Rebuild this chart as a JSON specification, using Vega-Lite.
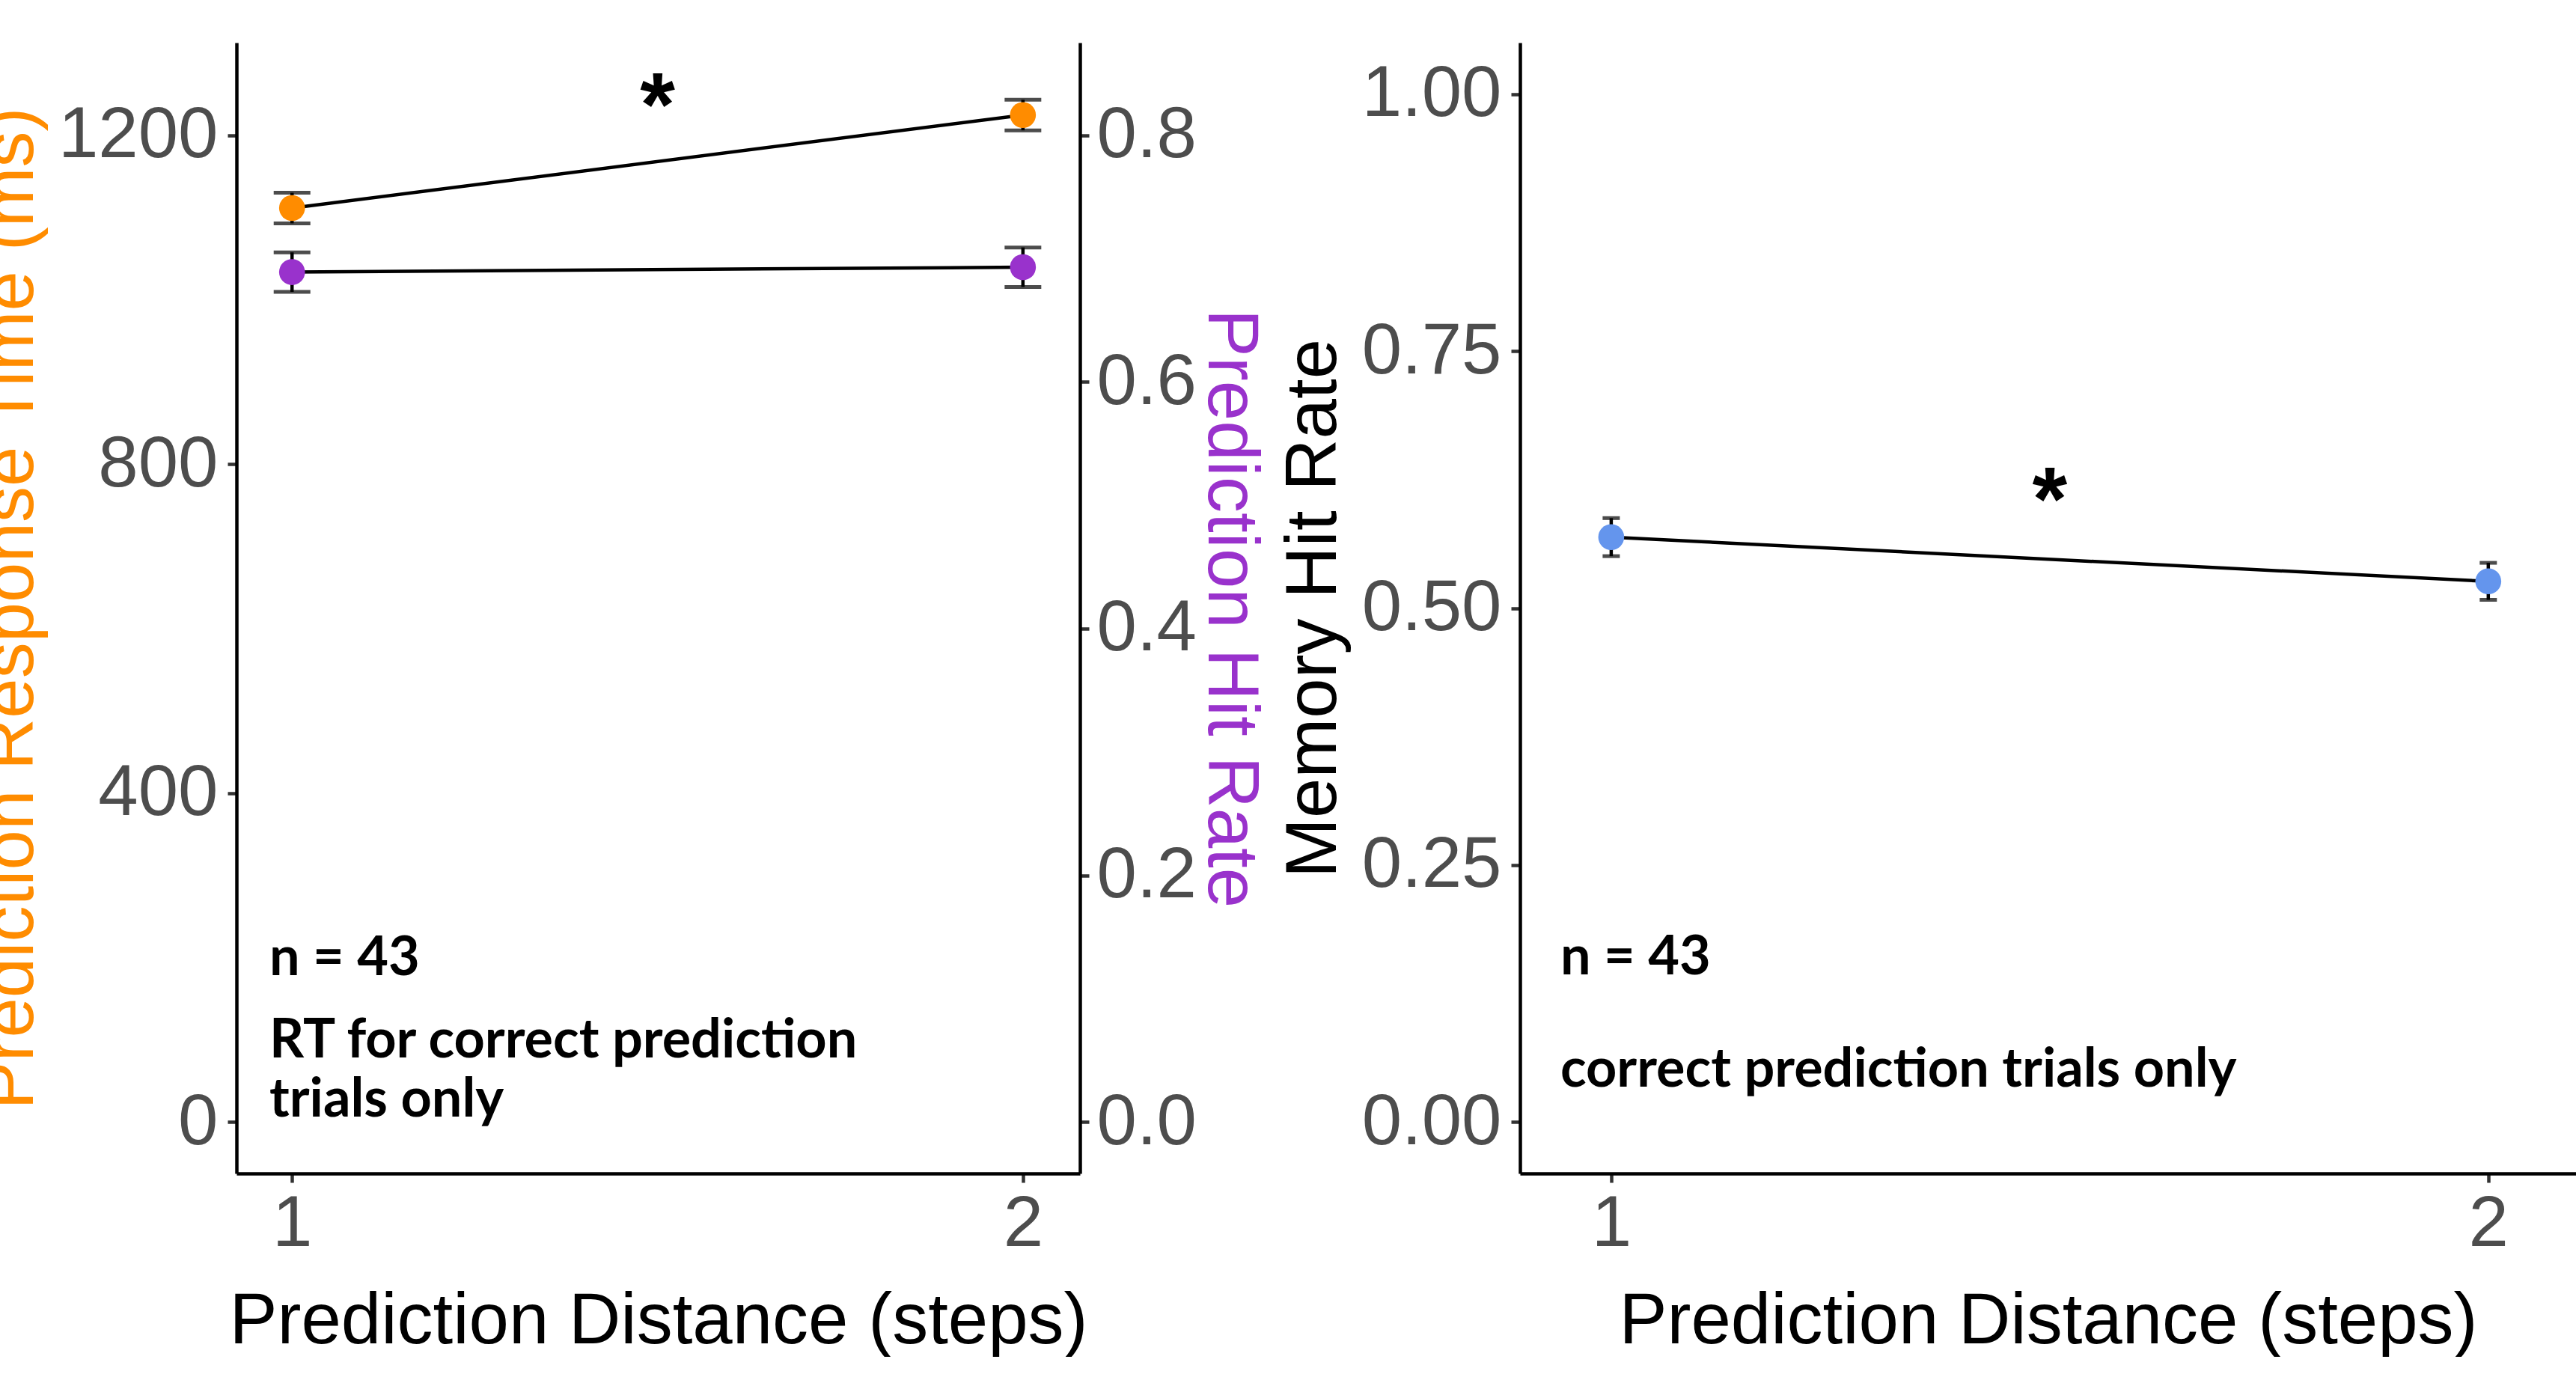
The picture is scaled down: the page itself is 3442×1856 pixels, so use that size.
{
  "$schema": "https://vega.github.io/schema/vega-lite/v6.json",
  "background": "white",
  "padding": {"left": -34, "top": 57, "right": 0, "bottom": 0},
  "spacing": 16,
  "config": {
    "view": {"stroke": null},
    "axis": {
      "labelFont": "Liberation Sans",
      "titleFont": "Liberation Sans",
      "labelFontSize": 96,
      "titleFontSize": 96,
      "labelColor": "#4D4D4D",
      "titleColor": "#000000",
      "titleFontWeight": "normal",
      "tickColor": "#333333",
      "tickWidth": 4.5,
      "tickSize": 12,
      "domainColor": "#000000",
      "domainWidth": 4.5,
      "grid": false,
      "labelFlush": false,
      "labelOverlap": false,
      "labelBound": false,
      "labelLimit": 0,
      "titleLimit": 0
    }
  },
  "datasets": {
    "rt": [
      {"dist": 1, "rt": 1111.4, "rt_lo": 1092.8, "rt_hi": 1130.0},
      {"dist": 2, "rt": 1224.5, "rt_lo": 1205.9, "rt_hi": 1243.1}
    ],
    "hit": [
      {"dist": 1, "hit": 0.689, "hit_lo": 0.673, "hit_hi": 0.705},
      {"dist": 2, "hit": 0.693, "hit_lo": 0.677, "hit_hi": 0.709}
    ],
    "mem": [
      {"dist": 1, "mem": 0.569, "mem_lo": 0.5505, "mem_hi": 0.5875},
      {"dist": 2, "mem": 0.526, "mem_lo": 0.508, "mem_hi": 0.544}
    ],
    "noteLeft": [
      {"dist": 0.969, "rt": 179, "label": "n = 43"},
      {"dist": 0.969, "rt": 79, "label": "RT for correct prediction"},
      {"dist": 0.969, "rt": 7, "label": "trials only"}
    ],
    "starLeft": [{"dist": 1.5, "rt": 1200, "label": "*"}],
    "noteRight": [
      {"dist": 0.942, "mem": 0.1433, "label": "n = 43"},
      {"dist": 0.942, "mem": 0.0346, "label": "correct prediction trials only"}
    ],
    "starRight": [{"dist": 1.5, "mem": 0.576, "label": "*"}]
  },
  "hconcat": [
    {
      "width": 1127,
      "height": 1511,
      "encoding": {
        "x": {
          "field": "dist",
          "type": "quantitative",
          "scale": {"domain": [0.924, 2.078], "nice": false, "zero": false},
          "axis": {"title": "Prediction Distance (steps)", "values": [1, 2], "format": "d", "labelPadding": 8, "titlePadding": 35}
        }
      },
      "layer": [
        {
          "layer": [
            {
              "data": {"name": "rt"},
              "mark": {"type": "line", "color": "black", "strokeWidth": 4.5},
              "encoding": {
                "y": {"field": "rt", "type": "quantitative", "scale": {"domain": [-62.5, 1312.5], "nice": false, "zero": false},
                  "axis": {"orient": "left", "title": "Prediction Response Time (ms)", "titleColor": "#FF8C00", "values": [0, 400, 800, 1200], "format": "d", "labelPadding": 13, "titlePadding": 0, "minExtent": 253, "maxExtent": 253}}
              }
            },
            {
              "data": {"name": "rt"},
              "mark": {"type": "rule", "color": "black", "strokeWidth": 4.5},
              "encoding": {
                "y": {"field": "rt_lo", "type": "quantitative", "scale": {"domain": [-62.5, 1312.5], "nice": false, "zero": false},
                  "axis": {"orient": "left", "title": "Prediction Response Time (ms)", "titleColor": "#FF8C00", "values": [0, 400, 800, 1200], "format": "d", "labelPadding": 13, "titlePadding": 0, "minExtent": 253, "maxExtent": 253}},
                "y2": {"field": "rt_hi"}
              }
            },
            {
              "data": {"name": "rt"},
              "mark": {"type": "tick", "orient": "horizontal", "color": "black", "thickness": 5, "size": 49},
              "encoding": {"y": {"field": "rt_lo", "type": "quantitative", "scale": {"domain": [-62.5, 1312.5], "nice": false, "zero": false},
                  "axis": {"orient": "left", "title": "Prediction Response Time (ms)", "titleColor": "#FF8C00", "values": [0, 400, 800, 1200], "format": "d", "labelPadding": 13, "titlePadding": 0, "minExtent": 253, "maxExtent": 253}}}
            },
            {
              "data": {"name": "rt"},
              "mark": {"type": "tick", "orient": "horizontal", "color": "black", "thickness": 5, "size": 49},
              "encoding": {"y": {"field": "rt_hi", "type": "quantitative", "scale": {"domain": [-62.5, 1312.5], "nice": false, "zero": false},
                  "axis": {"orient": "left", "title": "Prediction Response Time (ms)", "titleColor": "#FF8C00", "values": [0, 400, 800, 1200], "format": "d", "labelPadding": 13, "titlePadding": 0, "minExtent": 253, "maxExtent": 253}}}
            },
            {
              "data": {"name": "rt"},
              "mark": {"type": "circle", "color": "#FF8C00", "opacity": 1, "size": 1200},
              "encoding": {"y": {"field": "rt", "type": "quantitative", "scale": {"domain": [-62.5, 1312.5], "nice": false, "zero": false},
                  "axis": {"orient": "left", "title": "Prediction Response Time (ms)", "titleColor": "#FF8C00", "values": [0, 400, 800, 1200], "format": "d", "labelPadding": 13, "titlePadding": 0, "minExtent": 253, "maxExtent": 253}}}
            },
            {
              "data": {"name": "starLeft"},
              "mark": {"type": "text", "font": "Liberation Sans", "fontSize": 120, "fontWeight": "bold", "align": "center", "baseline": "alphabetic", "color": "black"},
              "encoding": {"y": {"field": "rt", "type": "quantitative", "scale": {"domain": [-62.5, 1312.5], "nice": false, "zero": false},
                  "axis": {"orient": "left", "title": "Prediction Response Time (ms)", "titleColor": "#FF8C00", "values": [0, 400, 800, 1200], "format": "d", "labelPadding": 13, "titlePadding": 0, "minExtent": 253, "maxExtent": 253}}, "text": {"field": "label"}}
            },
            {
              "data": {"name": "noteLeft"},
              "mark": {"type": "text", "font": "Lato", "fontWeight": "bold", "fontSize": 72, "align": "left", "baseline": "alphabetic", "color": "black"},
              "encoding": {"y": {"field": "rt", "type": "quantitative", "scale": {"domain": [-62.5, 1312.5], "nice": false, "zero": false},
                  "axis": {"orient": "left", "title": "Prediction Response Time (ms)", "titleColor": "#FF8C00", "values": [0, 400, 800, 1200], "format": "d", "labelPadding": 13, "titlePadding": 0, "minExtent": 253, "maxExtent": 253}}, "text": {"field": "label"}}
            }
          ]
        },
        {
          "layer": [
            {
              "data": {"name": "hit"},
              "mark": {"type": "line", "color": "black", "strokeWidth": 4.5},
              "encoding": {
                "y": {"field": "hit", "type": "quantitative", "scale": {"domain": [-0.0416667, 0.875], "nice": false, "zero": false},
                  "axis": {"orient": "right", "title": "Prediction Hit Rate", "titleColor": "#9932CC", "values": [0, 0.2, 0.4, 0.6, 0.8], "format": ".1f", "labelPadding": 10, "titlePadding": 0, "minExtent": 151, "maxExtent": 151}}
              }
            },
            {
              "data": {"name": "hit"},
              "mark": {"type": "rule", "color": "black", "strokeWidth": 4.5},
              "encoding": {
                "y": {"field": "hit_lo", "type": "quantitative", "scale": {"domain": [-0.0416667, 0.875], "nice": false, "zero": false},
                  "axis": {"orient": "right", "title": "Prediction Hit Rate", "titleColor": "#9932CC", "values": [0, 0.2, 0.4, 0.6, 0.8], "format": ".1f", "labelPadding": 10, "titlePadding": 0, "minExtent": 151, "maxExtent": 151}},
                "y2": {"field": "hit_hi"}
              }
            },
            {
              "data": {"name": "hit"},
              "mark": {"type": "tick", "orient": "horizontal", "color": "black", "thickness": 5, "size": 49},
              "encoding": {"y": {"field": "hit_lo", "type": "quantitative", "scale": {"domain": [-0.0416667, 0.875], "nice": false, "zero": false},
                  "axis": {"orient": "right", "title": "Prediction Hit Rate", "titleColor": "#9932CC", "values": [0, 0.2, 0.4, 0.6, 0.8], "format": ".1f", "labelPadding": 10, "titlePadding": 0, "minExtent": 151, "maxExtent": 151}}}
            },
            {
              "data": {"name": "hit"},
              "mark": {"type": "tick", "orient": "horizontal", "color": "black", "thickness": 5, "size": 49},
              "encoding": {"y": {"field": "hit_hi", "type": "quantitative", "scale": {"domain": [-0.0416667, 0.875], "nice": false, "zero": false},
                  "axis": {"orient": "right", "title": "Prediction Hit Rate", "titleColor": "#9932CC", "values": [0, 0.2, 0.4, 0.6, 0.8], "format": ".1f", "labelPadding": 10, "titlePadding": 0, "minExtent": 151, "maxExtent": 151}}}
            },
            {
              "data": {"name": "hit"},
              "mark": {"type": "circle", "color": "#9932CC", "opacity": 1, "size": 1200},
              "encoding": {"y": {"field": "hit", "type": "quantitative", "scale": {"domain": [-0.0416667, 0.875], "nice": false, "zero": false},
                  "axis": {"orient": "right", "title": "Prediction Hit Rate", "titleColor": "#9932CC", "values": [0, 0.2, 0.4, 0.6, 0.8], "format": ".1f", "labelPadding": 10, "titlePadding": 0, "minExtent": 151, "maxExtent": 151}}}
            }
          ]
        }
      ],
      "resolve": {"scale": {"y": "independent"}}
    },
    {
      "width": 1411,
      "height": 1511,
      "encoding": {
        "x": {
          "field": "dist",
          "type": "quantitative",
          "scale": {"domain": [0.896, 2.1], "nice": false, "zero": false},
          "axis": {"title": "Prediction Distance (steps)", "values": [1, 2], "format": "d", "labelPadding": 8, "titlePadding": 35}
        }
      },
      "layer": [
        {
          "data": {"name": "mem"},
          "mark": {"type": "line", "color": "black", "strokeWidth": 4.5},
          "encoding": {
            "y": {"field": "mem", "type": "quantitative", "scale": {"domain": [-0.05, 1.05], "nice": false, "zero": false},
              "axis": {"orient": "left", "title": "Memory Hit Rate", "values": [0, 0.25, 0.5, 0.75, 1], "format": ".2f", "labelPadding": 13, "titlePadding": 0, "minExtent": 226.5, "maxExtent": 226.5}}
          }
        },
        {
          "data": {"name": "mem"},
          "mark": {"type": "rule", "color": "black", "strokeWidth": 4.5},
          "encoding": {
            "y": {"field": "mem_lo", "type": "quantitative", "scale": {"domain": [-0.05, 1.05], "nice": false, "zero": false},
              "axis": {"orient": "left", "title": "Memory Hit Rate", "values": [0, 0.25, 0.5, 0.75, 1], "format": ".2f", "labelPadding": 13, "titlePadding": 0, "minExtent": 226.5, "maxExtent": 226.5}},
            "y2": {"field": "mem_hi"}
          }
        },
        {
          "data": {"name": "mem"},
          "mark": {"type": "tick", "orient": "horizontal", "color": "black", "thickness": 5, "size": 23},
          "encoding": {"y": {"field": "mem_lo", "type": "quantitative", "scale": {"domain": [-0.05, 1.05], "nice": false, "zero": false},
              "axis": {"orient": "left", "title": "Memory Hit Rate", "values": [0, 0.25, 0.5, 0.75, 1], "format": ".2f", "labelPadding": 13, "titlePadding": 0, "minExtent": 226.5, "maxExtent": 226.5}}}
        },
        {
          "data": {"name": "mem"},
          "mark": {"type": "tick", "orient": "horizontal", "color": "black", "thickness": 5, "size": 23},
          "encoding": {"y": {"field": "mem_hi", "type": "quantitative", "scale": {"domain": [-0.05, 1.05], "nice": false, "zero": false},
              "axis": {"orient": "left", "title": "Memory Hit Rate", "values": [0, 0.25, 0.5, 0.75, 1], "format": ".2f", "labelPadding": 13, "titlePadding": 0, "minExtent": 226.5, "maxExtent": 226.5}}}
        },
        {
          "data": {"name": "mem"},
          "mark": {"type": "circle", "color": "#6495ED", "opacity": 1, "size": 1200},
          "encoding": {"y": {"field": "mem", "type": "quantitative", "scale": {"domain": [-0.05, 1.05], "nice": false, "zero": false},
              "axis": {"orient": "left", "title": "Memory Hit Rate", "values": [0, 0.25, 0.5, 0.75, 1], "format": ".2f", "labelPadding": 13, "titlePadding": 0, "minExtent": 226.5, "maxExtent": 226.5}}}
        },
        {
          "data": {"name": "starRight"},
          "mark": {"type": "text", "font": "Liberation Sans", "fontSize": 120, "fontWeight": "bold", "align": "center", "baseline": "alphabetic", "color": "black"},
          "encoding": {"y": {"field": "mem", "type": "quantitative", "scale": {"domain": [-0.05, 1.05], "nice": false, "zero": false},
              "axis": {"orient": "left", "title": "Memory Hit Rate", "values": [0, 0.25, 0.5, 0.75, 1], "format": ".2f", "labelPadding": 13, "titlePadding": 0, "minExtent": 226.5, "maxExtent": 226.5}}, "text": {"field": "label"}}
        },
        {
          "data": {"name": "noteRight"},
          "mark": {"type": "text", "font": "Lato", "fontWeight": "bold", "fontSize": 72, "align": "left", "baseline": "alphabetic", "color": "black"},
          "encoding": {"y": {"field": "mem", "type": "quantitative", "scale": {"domain": [-0.05, 1.05], "nice": false, "zero": false},
              "axis": {"orient": "left", "title": "Memory Hit Rate", "values": [0, 0.25, 0.5, 0.75, 1], "format": ".2f", "labelPadding": 13, "titlePadding": 0, "minExtent": 226.5, "maxExtent": 226.5}}, "text": {"field": "label"}}
        }
      ]
    }
  ]
}
